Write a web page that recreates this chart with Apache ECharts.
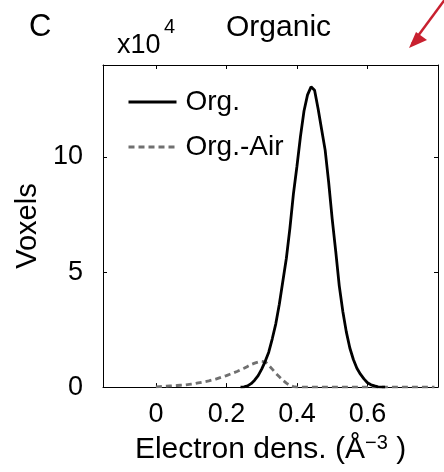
<!DOCTYPE html>
<html>
<head>
<meta charset="utf-8">
<script src="https://cdn.jsdelivr.net/npm/echarts@6/dist/echarts.min.js"></script>
<style>
html,body{margin:0;padding:0;background:#fff;}
#c{width:444px;height:472px;}
</style>
</head>
<body>
<div id="c"></div>
<script>
// Electron density bins (Å^-3)
var orgX = [0.24,0.25,0.26,0.27,0.28,0.29,0.30,0.31,0.32,0.33,0.34,0.35,0.36,0.37,0.38,0.39,0.40,0.41,0.42,0.43,0.44,0.45,0.46,0.47,0.48,0.49,0.50,0.51,0.52,0.53,0.54,0.55,0.56,0.57,0.58,0.59,0.60,0.61,0.62,0.63,0.64,0.65];
// Org. voxel counts (x10^4)
var orgY = [0,0.01,0.05,0.15,0.3,0.5,0.78,1.12,1.52,2.1,2.75,3.6,4.6,5.6,6.9,8.4,9.6,10.9,12.0,12.7,13.05,12.9,12.1,11.2,10.3,8.9,7.3,5.9,4.4,3.3,2.4,1.7,1.2,0.82,0.56,0.36,0.19,0.1,0.05,0.01,0,0];
var airX = [0.00,0.01,0.02,0.03,0.04,0.05,0.06,0.07,0.08,0.09,0.10,0.11,0.12,0.13,0.14,0.15,0.16,0.17,0.18,0.19,0.20,0.21,0.22,0.23,0.24,0.25,0.26,0.27,0.28,0.29,0.30,0.31,0.32,0.33,0.34,0.35,0.36,0.37,0.38,0.39,0.40,0.45,0.50,0.55,0.60,0.65,0.70,0.75,0.79];
// Org.-Air voxel counts (x10^4)
var airY = [0.01,0.02,0.03,0.04,0.05,0.06,0.07,0.08,0.09,0.11,0.13,0.15,0.18,0.21,0.24,0.27,0.31,0.35,0.40,0.45,0.50,0.56,0.62,0.68,0.75,0.82,0.90,0.98,1.04,1.09,1.12,1.10,0.95,0.78,0.60,0.45,0.30,0.17,0.07,0.02,0,0,0,0,0,0,0,0,0];
var xTicks = [0,0.2,0.4,0.6];
var yTicks = [0,5,10];
var seriesNames = ['Org.','Org.-Air'];

function pairs(xs, ys){ return xs.map(function(x,i){ return [x, ys[i]]; }); }

var FONT = 'Liberation Sans, Arial, Helvetica, sans-serif';
var chart = echarts.init(document.getElementById('c'), null, {renderer:'canvas'});

function xAxisCfg(pos, show){
  return {
    type:'value', position:pos, min:-0.15, max:0.8,
    axisLine:{show:true, onZero:false, lineStyle:{color:'#000', width:1}},
    axisTick:{show:true, inside:true, length:4, customValues:xTicks, lineStyle:{color:'#000'}},
    axisLabel:{show:show, customValues:xTicks, color:'#000', fontSize:27, fontFamily:FONT, margin:14,
      formatter:function(v){ return String(v); }},
    splitLine:{show:false}
  };
}
function yAxisCfg(pos, show){
  return {
    type:'value', position:pos, min:0, max:14,
    axisLine:{show:true, onZero:false, lineStyle:{color:'#000', width:1}},
    axisTick:{show:true, inside:true, length:4, customValues:yTicks, lineStyle:{color:'#000'}},
    axisLabel:{show:show, customValues:yTicks, color:'#000', fontSize:27, fontFamily:FONT, margin:20},
    splitLine:{show:false}
  };
}

var xa = xAxisCfg('bottom', true);
xa.name = 'Electron dens. (Å{sup|−3}{p| )}';
xa.nameLocation = 'middle';
xa.nameGap = 40;
xa.nameTextStyle = {color:'#000', fontSize:30, fontFamily:FONT, lineHeight:34,
  rich:{sup:{fontSize:20, fontFamily:FONT, color:'#000', verticalAlign:'top', lineHeight:11},
        p:{fontSize:30, fontFamily:FONT, color:'#000', lineHeight:34}}};
var xt = xAxisCfg('top', false);
var ya = yAxisCfg('left', true);
ya.name = 'Voxels';
ya.nameLocation = 'middle';
ya.nameRotate = 90;
ya.nameGap = 52;
ya.nameTextStyle = {color:'#000', fontSize:29, fontFamily:FONT};
var yr = yAxisCfg('right', false);

var option = {
  backgroundColor:'#fff',
  animation:false,
  grid:{left:103, right:6, top:65, bottom:84, containLabel:false},
  title:[
    {text:'C', left:24, top:7, textStyle:{fontSize:31, fontWeight:'normal', color:'#000', fontFamily:FONT}},
    {text:'Organic', left:221, top:8, textStyle:{fontSize:30, fontWeight:'normal', color:'#000', fontFamily:FONT}},
    {text:'x10', left:112, top:27, textStyle:{fontSize:27, fontWeight:'normal', color:'#000', fontFamily:FONT}},
    {text:'4', left:159, top:12, textStyle:{fontSize:20, fontWeight:'normal', color:'#000', fontFamily:FONT}}
  ],
  legend:{
    orient:'vertical', left:122, top:83, itemWidth:48, itemHeight:14, itemGap:17,
    data:seriesNames,
    itemStyle:{opacity:0},
    lineStyle:{width:3},
    textStyle:{color:'#000', fontSize:28, fontFamily:FONT, padding:[0,0,0,4]}
  },
  xAxis:[xa, xt],
  yAxis:[ya, yr],
  series:[
    {name:seriesNames[0], type:'line', symbol:'none', data:pairs(orgX, orgY),
      lineStyle:{color:'#000', width:2.8}, itemStyle:{color:'#000'}, z:3},
    {name:seriesNames[1], type:'line', symbol:'none', data:pairs(airX, airY),
      lineStyle:{color:'#707070', width:2.8, type:[6,4]}, itemStyle:{color:'#707070'}, z:2}
  ],
  graphic:[
    {type:'line', shape:{x1:446, y1:-2, x2:412, y2:44}, style:{stroke:'#c8202f', lineWidth:2.5}},
    {type:'polygon', shape:{points:[[409,48],[416,32],[427,40]]}, style:{fill:'#c8202f'}}
  ]
};
chart.setOption(option);
</script>
</body>
</html>
